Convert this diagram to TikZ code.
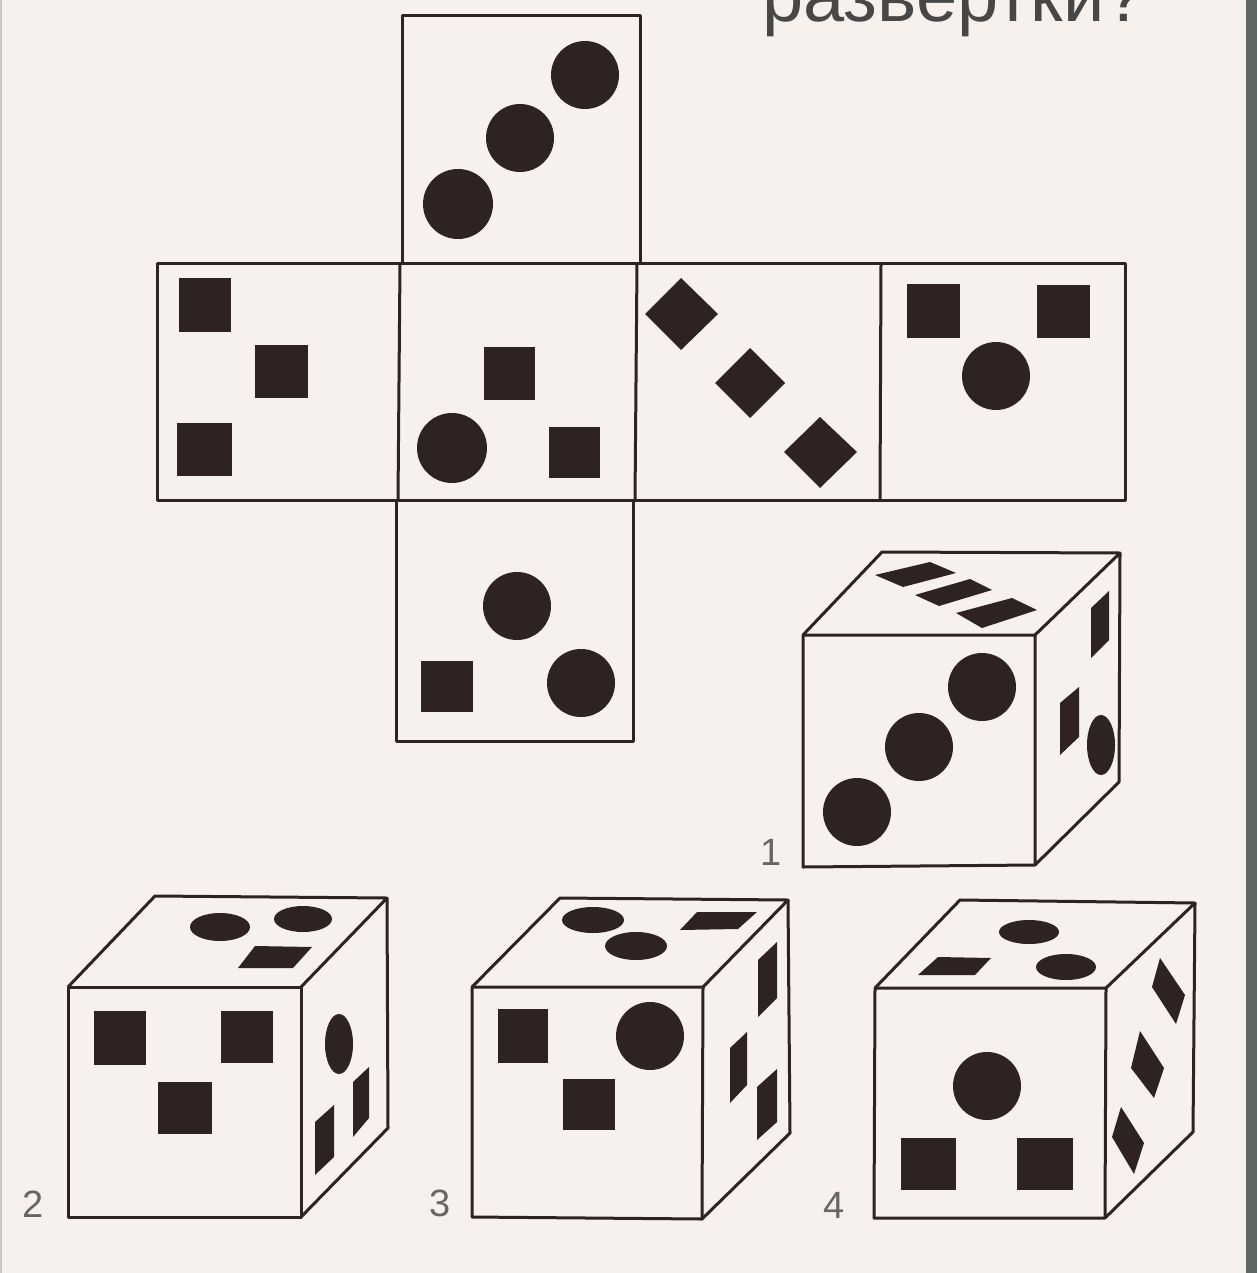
\documentclass[tikz,border=0pt]{standalone}
\usepackage{fontspec}
\setmainfont{Liberation Sans}
\usepackage{tikz}
\definecolor{paper}{HTML}{F6F1EC}
\definecolor{ink}{HTML}{2E2320}
\definecolor{stripe}{HTML}{5E6862}
\begin{document}
\begin{tikzpicture}[
    x=1pt, y=-1pt,
    outline/.style={draw=ink, line width=3pt, line join=round},
    blob/.style={fill=ink, draw=none},
    numlabel/.style={font=\fontsize{38}{38}\selectfont, text=black!60, inner sep=0pt},
    headline/.style={font=\fontsize{74}{74}\selectfont, text=black!72, inner sep=0pt, anchor=base west},
]
    \clip (0,0) rectangle (1257,1273);
    \fill[paper] (0,0) rectangle (1257,1273);
    \fill[stripe] (1246,0) rectangle (1257,1273);
    \fill[black!22] (0,0) rectangle (2,1273);

    % Heading, cut by the top edge
    \node[headline] (heading) at (762,22) {развертки?};

    % Net: outlines
    \draw[outline] (402,16) rectangle (640,263);
    \draw[outline] (157,263) rectangle (1125,500);
    \draw[outline] (400,263) -- (398,500);
    \draw[outline] (637,263) -- (635,500);
    \draw[outline] (881,263) -- (880,500);
    \draw[outline] (396,500) -- (396,741) -- (633,741) -- (633,500);

    % Net: top face
    \fill[blob] (585,75) circle (34);
    \fill[blob] (520,138) circle (34);
    \fill[blob] (458,204) circle (35);

    % Net: left face
    \fill[blob] (179,278) rectangle (231,332);
    \fill[blob] (255,345) rectangle (308,398);
    \fill[blob] (177,423) rectangle (232,476);

    % Net: middle face
    \fill[blob] (484,347) rectangle (535,400);
    \fill[blob] (452,448) circle (35);
    \fill[blob] (549,427) rectangle (600,478);

    % Net: diamonds
    \fill[blob] (645,314) -- (681,278) -- (718,314) -- (681,350) -- cycle;
    \fill[blob] (715,383) -- (750,348) -- (785,383) -- (750,418) -- cycle;
    \fill[blob] (784,452) -- (820,417) -- (857,452) -- (820,488) -- cycle;

    % Net: right face
    \fill[blob] (907,284) rectangle (960,338);
    \fill[blob] (1037,285) rectangle (1090,338);
    \fill[blob] (996,376) circle (34);

    % Net: bottom face
    \fill[blob] (517,606) circle (34);
    \fill[blob] (421,661) rectangle (473,712);
    \fill[blob] (581,683) circle (34);

    % Cube 1
    \draw[outline] (803,635) -- (1035,635) -- (1035,865) -- (803,867) -- cycle;
    \draw[outline] (803,635) -- (882,552) -- (1120,553) -- (1035,635);
    \draw[outline] (1120,553) -- (1119,782) -- (1035,865);
    \fill[blob] (875,575) -- (930,562) -- (956,573) -- (903,587) -- cycle;
    \fill[blob] (915,595) -- (970,579) -- (992,590) -- (939,606) -- cycle;
    \fill[blob] (956,613) -- (1012,598) -- (1037,610) -- (982,628) -- cycle;
    \fill[blob] (982,687) circle (34);
    \fill[blob] (919,747) circle (34);
    \fill[blob] (857,812) circle (34);
    \fill[blob] (1091,608) -- (1109,591) -- (1109,640) -- (1091,658) -- cycle;
    \fill[blob] (1060,703) -- (1079,687) -- (1079,737) -- (1060,755) -- cycle;
    \fill[blob] (1101,745) ellipse (14 and 30);
    \node[numlabel] (label1) at (771,852) {1};

    % Cube 2
    \draw[outline] (68,987) -- (301,987) -- (301,1217) -- (68,1217) -- cycle;
    \draw[outline] (68,987) -- (155,896) -- (387,898) -- (301,987);
    \draw[outline] (387,898) -- (388,1128) -- (301,1217);
    \fill[blob] (220,927) ellipse (30 and 14);
    \fill[blob] (303,919) ellipse (29 and 13);
    \fill[blob] (238,968) -- (255,946) -- (312,947) -- (293,968) -- cycle;
    \fill[blob] (94,1011) rectangle (146,1065);
    \fill[blob] (221,1011) rectangle (273,1063);
    \fill[blob] (158,1082) rectangle (212,1134);
    \fill[blob] (339,1044) ellipse (14 and 30);
    \fill[blob] (353,1082) -- (369,1067) -- (369,1118) -- (353,1137) -- cycle;
    \fill[blob] (315,1122) -- (334,1105) -- (334,1157) -- (315,1175) -- cycle;
    \node[numlabel] (label2) at (33,1204) {2};

    % Cube 3
    \draw[outline] (472,987) -- (703,987) -- (702,1219) -- (472,1217) -- cycle;
    \draw[outline] (472,987) -- (560,898) -- (788,900) -- (703,987);
    \draw[outline] (788,900) -- (790,1133) -- (702,1219);
    \fill[blob] (593,920) ellipse (31 and 13);
    \fill[blob] (636,946) ellipse (31 and 14);
    \fill[blob] (680,930) -- (697,912) -- (757,912) -- (738,929) -- cycle;
    \fill[blob] (498,1009) rectangle (548,1063);
    \fill[blob] (650,1036) circle (34);
    \fill[blob] (563,1079) rectangle (615,1130);
    \fill[blob] (758,960) -- (777,942) -- (777,998) -- (758,1017) -- cycle;
    \fill[blob] (730,1048) -- (747,1032) -- (747,1085) -- (730,1103) -- cycle;
    \fill[blob] (757,1087) -- (777,1069) -- (777,1122) -- (757,1140) -- cycle;
    \node[numlabel] (label3) at (440,1203) {3};

    % Cube 4
    \draw[outline] (875,988) -- (1106,988) -- (1105,1218) -- (874,1218) -- cycle;
    \draw[outline] (875,988) -- (960,900) -- (1195,903) -- (1106,988);
    \draw[outline] (1195,903) -- (1193,1132) -- (1105,1218);
    \fill[blob] (1029,932) ellipse (30 and 12);
    \fill[blob] (1066,967) ellipse (30 and 13);
    \fill[blob] (918,975) -- (938,957) -- (991,958) -- (975,975) -- cycle;
    \fill[blob] (987,1086) circle (34);
    \fill[blob] (901,1138) rectangle (956,1190);
    \fill[blob] (1017,1138) rectangle (1073,1190);
    \fill[blob] (1152,987) -- (1160,958) -- (1185,995) -- (1176,1024) -- cycle;
    \fill[blob] (1131,1068) -- (1140,1031) -- (1164,1068) -- (1154,1098) -- cycle;
    \fill[blob] (1112,1137) -- (1121,1107) -- (1144,1143) -- (1134,1174) -- cycle;
    \node[numlabel] (label4) at (834,1205) {4};
\end{tikzpicture}
\end{document}
